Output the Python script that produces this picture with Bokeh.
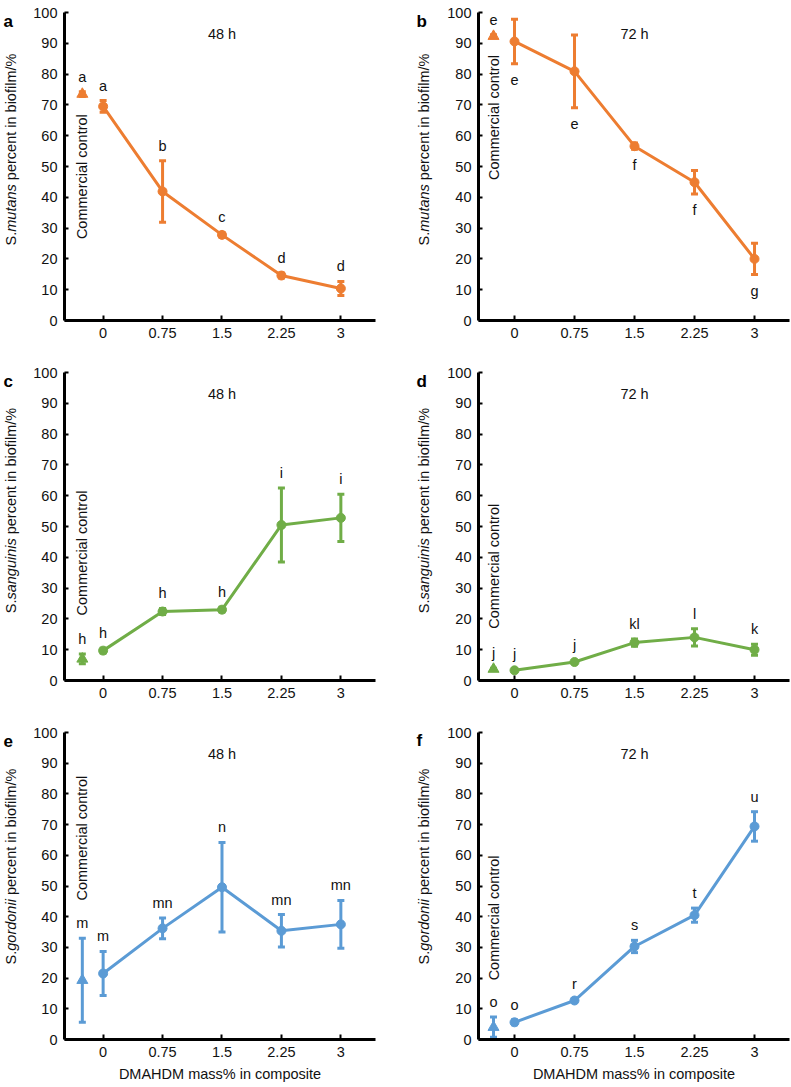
import math
from bokeh.plotting import figure
from bokeh.models import ColumnDataSource, Whisker, TeeHead, Label, FixedTicker, Range1d
from bokeh.layouts import column, row
from bokeh.embed import file_html
from bokeh.resources import INLINE
from bokeh.core.properties import value

# ---------------- data ----------------
doses = ["0", "0.75", "1.5", "2.25", "3"]
x_title = "DMAHDM mass% in composite"
control_text = "Commercial control"

# S. mutans 48 h
a_mean = [69.5, 41.9, 27.8, 14.6, 10.4]
a_err = [1.9, 10.0, 0.8, 0.8, 2.3]
a_letters = ["a", "b", "c", "d", "d"]
a_ctrl, a_ctrl_err, a_ctrl_letter = 73.5, 0.8, "a"

# S. mutans 72 h
b_mean = [90.6, 80.9, 56.6, 44.9, 20.0]
b_err = [7.2, 11.8, 1.0, 3.8, 5.1]
b_letters = ["e", "e", "f", "f", "g"]
b_ctrl, b_ctrl_err, b_ctrl_letter = 92.3, 0.5, "e"

# S. sanguinis 48 h
c_mean = [9.7, 22.4, 23.0, 50.5, 52.8]
c_err = [0.8, 1.0, 0.8, 12.0, 7.7]
c_letters = ["h", "h", "h", "i", "i"]
c_ctrl, c_ctrl_err, c_ctrl_letter = 7.0, 1.6, "h"

# S. sanguinis 72 h
d_mean = [3.3, 6.0, 12.3, 14.0, 10.0]
d_err = [0.5, 0.5, 1.2, 2.8, 1.8]
d_letters = ["j", "j", "kl", "l", "k"]
d_ctrl, d_ctrl_err, d_ctrl_letter = 3.7, 0.3, "j"

# S. gordonii 48 h
e_mean = [21.5, 36.2, 49.6, 35.4, 37.5]
e_err = [7.2, 3.4, 14.6, 5.3, 7.8]
e_letters = ["m", "mn", "n", "mn", "mn"]
e_ctrl, e_ctrl_err, e_ctrl_letter = 19.3, 13.7, "m"

# S. gordonii 72 h
f_mean = [5.6, 12.7, 30.3, 40.5, 69.4]
f_err = [0.8, 0.5, 2.0, 2.3, 4.8]
f_letters = ["o", "r", "s", "t", "u"]
f_ctrl, f_ctrl_err, f_ctrl_letter = 4.0, 3.3, "o"

# ---------------- style ----------------
ORANGE = "#ED7D31"
GREEN = "#70AD47"
BLUE = "#5B9BD5"
FONT = "Liberation Sans"
FS = 14.5
TXT = "#111111"
CTRL_X = -0.35
TOP = 12

# Arial / Liberation Sans advance widths (per 1000 em)
W = {"S": 667, ".": 278, "m": 833, "u": 556, "t": 278, "a": 556, "n": 556, "s": 500,
     " ": 278, "p": 556, "e": 556, "r": 333, "c": 500, "i": 222, "b": 556, "o": 556,
     "f": 278, "l": 222, "/": 278, "%": 889, "g": 556, "d": 556}


def tw(s, fs=FS):
    return sum(W.get(ch, 556) for ch in s) * fs / 1000.0


def make_strip(letter, species, width, height, frame_h, letter_x, title_x):
    s = figure(width=width, height=height, output_backend="svg", toolbar_location=None,
               title=None, x_range=Range1d(0, width), y_range=Range1d(0, height),
               min_border_left=0, min_border_right=0, min_border_top=0, min_border_bottom=0,
               x_axis_location=None, y_axis_location=None)
    s.outline_line_color = None
    s.grid.visible = False
    s.text([letter_x], [height - 10], text=[letter], text_align="left",
           text_baseline="middle", text_font=value(FONT), text_font_style="bold",
           text_font_size="17px", text_color="black")
    p1, p2, p3 = "S.", species, "percent in biofilm/%"
    gap = tw(" ")
    w1, w2, w3 = tw(p1), tw(p2), tw(p3)
    total = w1 + w2 + gap + w3
    yc = height - (TOP + frame_h / 2)
    j = yc - total / 2 + w1 + w2
    common = dict(angle=math.pi / 2, text_baseline="middle", text_font=value(FONT),
                  text_font_size=f"{FS}px", text_color=TXT)
    s.text([title_x], [j], text=[p3], text_align="left", text_font_style="normal",
           y_offset=-gap, **common)
    s.text([title_x], [j], text=[p2], text_align="right", text_font_style="italic", **common)
    s.text([title_x], [j], text=[p1], text_align="right", text_font_style="normal",
           y_offset=w2, **common)
    return s


def make_panel(hours, mean, err, letters, ctrl, ctrl_err, ctrl_letter,
               color, cc_y, left_col, height, frame_h, below_labels=False, show_xtitle=False):
    if left_col:
        width, bl, br, xr = 365, 31, 20, (-0.65, 4.583)
    else:
        width, bl, br, xr = 350, 38, 1, (-0.6, 4.583)
    bb = height - TOP - frame_h
    p = figure(width=width, height=height, output_backend="svg", toolbar_location=None,
               title=None, x_range=Range1d(*xr), y_range=Range1d(0, 100),
               min_border_left=bl, min_border_right=br, min_border_top=TOP,
               min_border_bottom=bb)
    p.outline_line_color = None
    p.grid.visible = False

    xs = list(range(len(doses)))
    p.xaxis.ticker = FixedTicker(ticks=xs)
    p.xaxis.major_label_overrides = {i: d for i, d in enumerate(doses)}
    p.yaxis.ticker = FixedTicker(ticks=list(range(0, 101, 10)))
    for ax in (p.xaxis, p.yaxis):
        ax.axis_line_width = 3
        ax.axis_line_color = "black"
        ax.major_tick_line_width = 2
        ax.major_tick_out = 0
        ax.minor_tick_line_color = None
        ax.major_label_text_font = FONT
        ax.major_label_text_font_size = f"{FS}px"
        ax.major_label_text_color = TXT
    p.xaxis.major_tick_in = 5
    p.yaxis.major_tick_in = 4
    p.xaxis.major_label_standoff = 7
    p.yaxis.major_label_standoff = 7
    if show_xtitle:
        p.xaxis.axis_label = x_title
        p.xaxis.axis_label_text_font = FONT
        p.xaxis.axis_label_text_font_style = "normal"
        p.xaxis.axis_label_text_font_size = f"{FS}px"
        p.xaxis.axis_label_standoff = 6
        p.xaxis.axis_label_text_color = TXT

    src = ColumnDataSource(dict(
        x=xs + [CTRL_X],
        upper=[m + e for m, e in zip(mean, err)] + [ctrl + ctrl_err],
        lower=[m - e for m, e in zip(mean, err)] + [ctrl - ctrl_err],
    ))
    p.add_layout(Whisker(source=src, base="x", upper="upper", lower="lower",
                         line_color=color, line_width=3,
                         upper_head=TeeHead(size=7, line_color=color, line_width=3),
                         lower_head=TeeHead(size=7, line_color=color, line_width=3)))

    p.line(xs, mean, line_color=color, line_width=3)
    p.scatter(xs, mean, marker="circle", size=9, fill_color=color, line_color=color)
    p.scatter([CTRL_X], [ctrl], marker="triangle", size=11, fill_color=color, line_color=color)

    kw = dict(text_align="center", text_baseline="middle", text_font=value(FONT),
              text_font_size=f"{FS}px", text_color=TXT)
    if below_labels:
        p.text(xs, [m - e for m, e in zip(mean, err)], text=letters, y_offset=16, **kw)
    else:
        p.text(xs, [m + e for m, e in zip(mean, err)], text=letters, y_offset=-15, **kw)
    p.text([CTRL_X], [ctrl + ctrl_err], text=[ctrl_letter], y_offset=-15, **kw)

    p.add_layout(Label(x=CTRL_X, y=cc_y, text=control_text, angle=math.pi / 2,
                       text_align="center", text_baseline="middle", text_font=FONT,
                       text_font_size=f"{FS}px", text_color=TXT))
    p.add_layout(Label(x=2, y=93, text=hours, text_align="center", text_baseline="middle",
                       text_font=FONT, text_font_size=f"{FS}px", text_color=TXT))
    return p


ROWS = [(360, 308), (360, 308), (365, 307)]

sa = make_strip("a", "mutans", 30, *ROWS[0], 3, 10)
pa = make_panel("48 h", a_mean, a_err, a_letters, a_ctrl, a_ctrl_err, a_ctrl_letter,
                ORANGE, 46.7, True, *ROWS[0])
sb = make_strip("b", "mutans", 45, *ROWS[0], 21, 28)
pb = make_panel("72 h", b_mean, b_err, b_letters, b_ctrl, b_ctrl_err, b_ctrl_letter,
                ORANGE, 65.9, False, *ROWS[0], below_labels=True)
sc = make_strip("c", "sanguinis", 30, *ROWS[1], 3, 10)
pc = make_panel("48 h", c_mean, c_err, c_letters, c_ctrl, c_ctrl_err, c_ctrl_letter,
                GREEN, 41.4, True, *ROWS[1])
sd = make_strip("d", "sanguinis", 45, *ROWS[1], 21, 28)
pd = make_panel("72 h", d_mean, d_err, d_letters, d_ctrl, d_ctrl_err, d_ctrl_letter,
                GREEN, 37.1, False, *ROWS[1])
se = make_strip("e", "gordonii", 30, *ROWS[2], 3, 10)
pe = make_panel("48 h", e_mean, e_err, e_letters, e_ctrl, e_ctrl_err, e_ctrl_letter,
                BLUE, 65.6, True, *ROWS[2], show_xtitle=True)
sf = make_strip("f", "gordonii", 45, *ROWS[2], 21, 28)
pf = make_panel("72 h", f_mean, f_err, f_letters, f_ctrl, f_ctrl_err, f_ctrl_letter,
                BLUE, 39.6, False, *ROWS[2], show_xtitle=True)

layout = column(row(sa, pa, sb, pb), row(sc, pc, sd, pd), row(se, pe, sf, pf))
open("out.html", "w").write(file_html(layout, INLINE))
